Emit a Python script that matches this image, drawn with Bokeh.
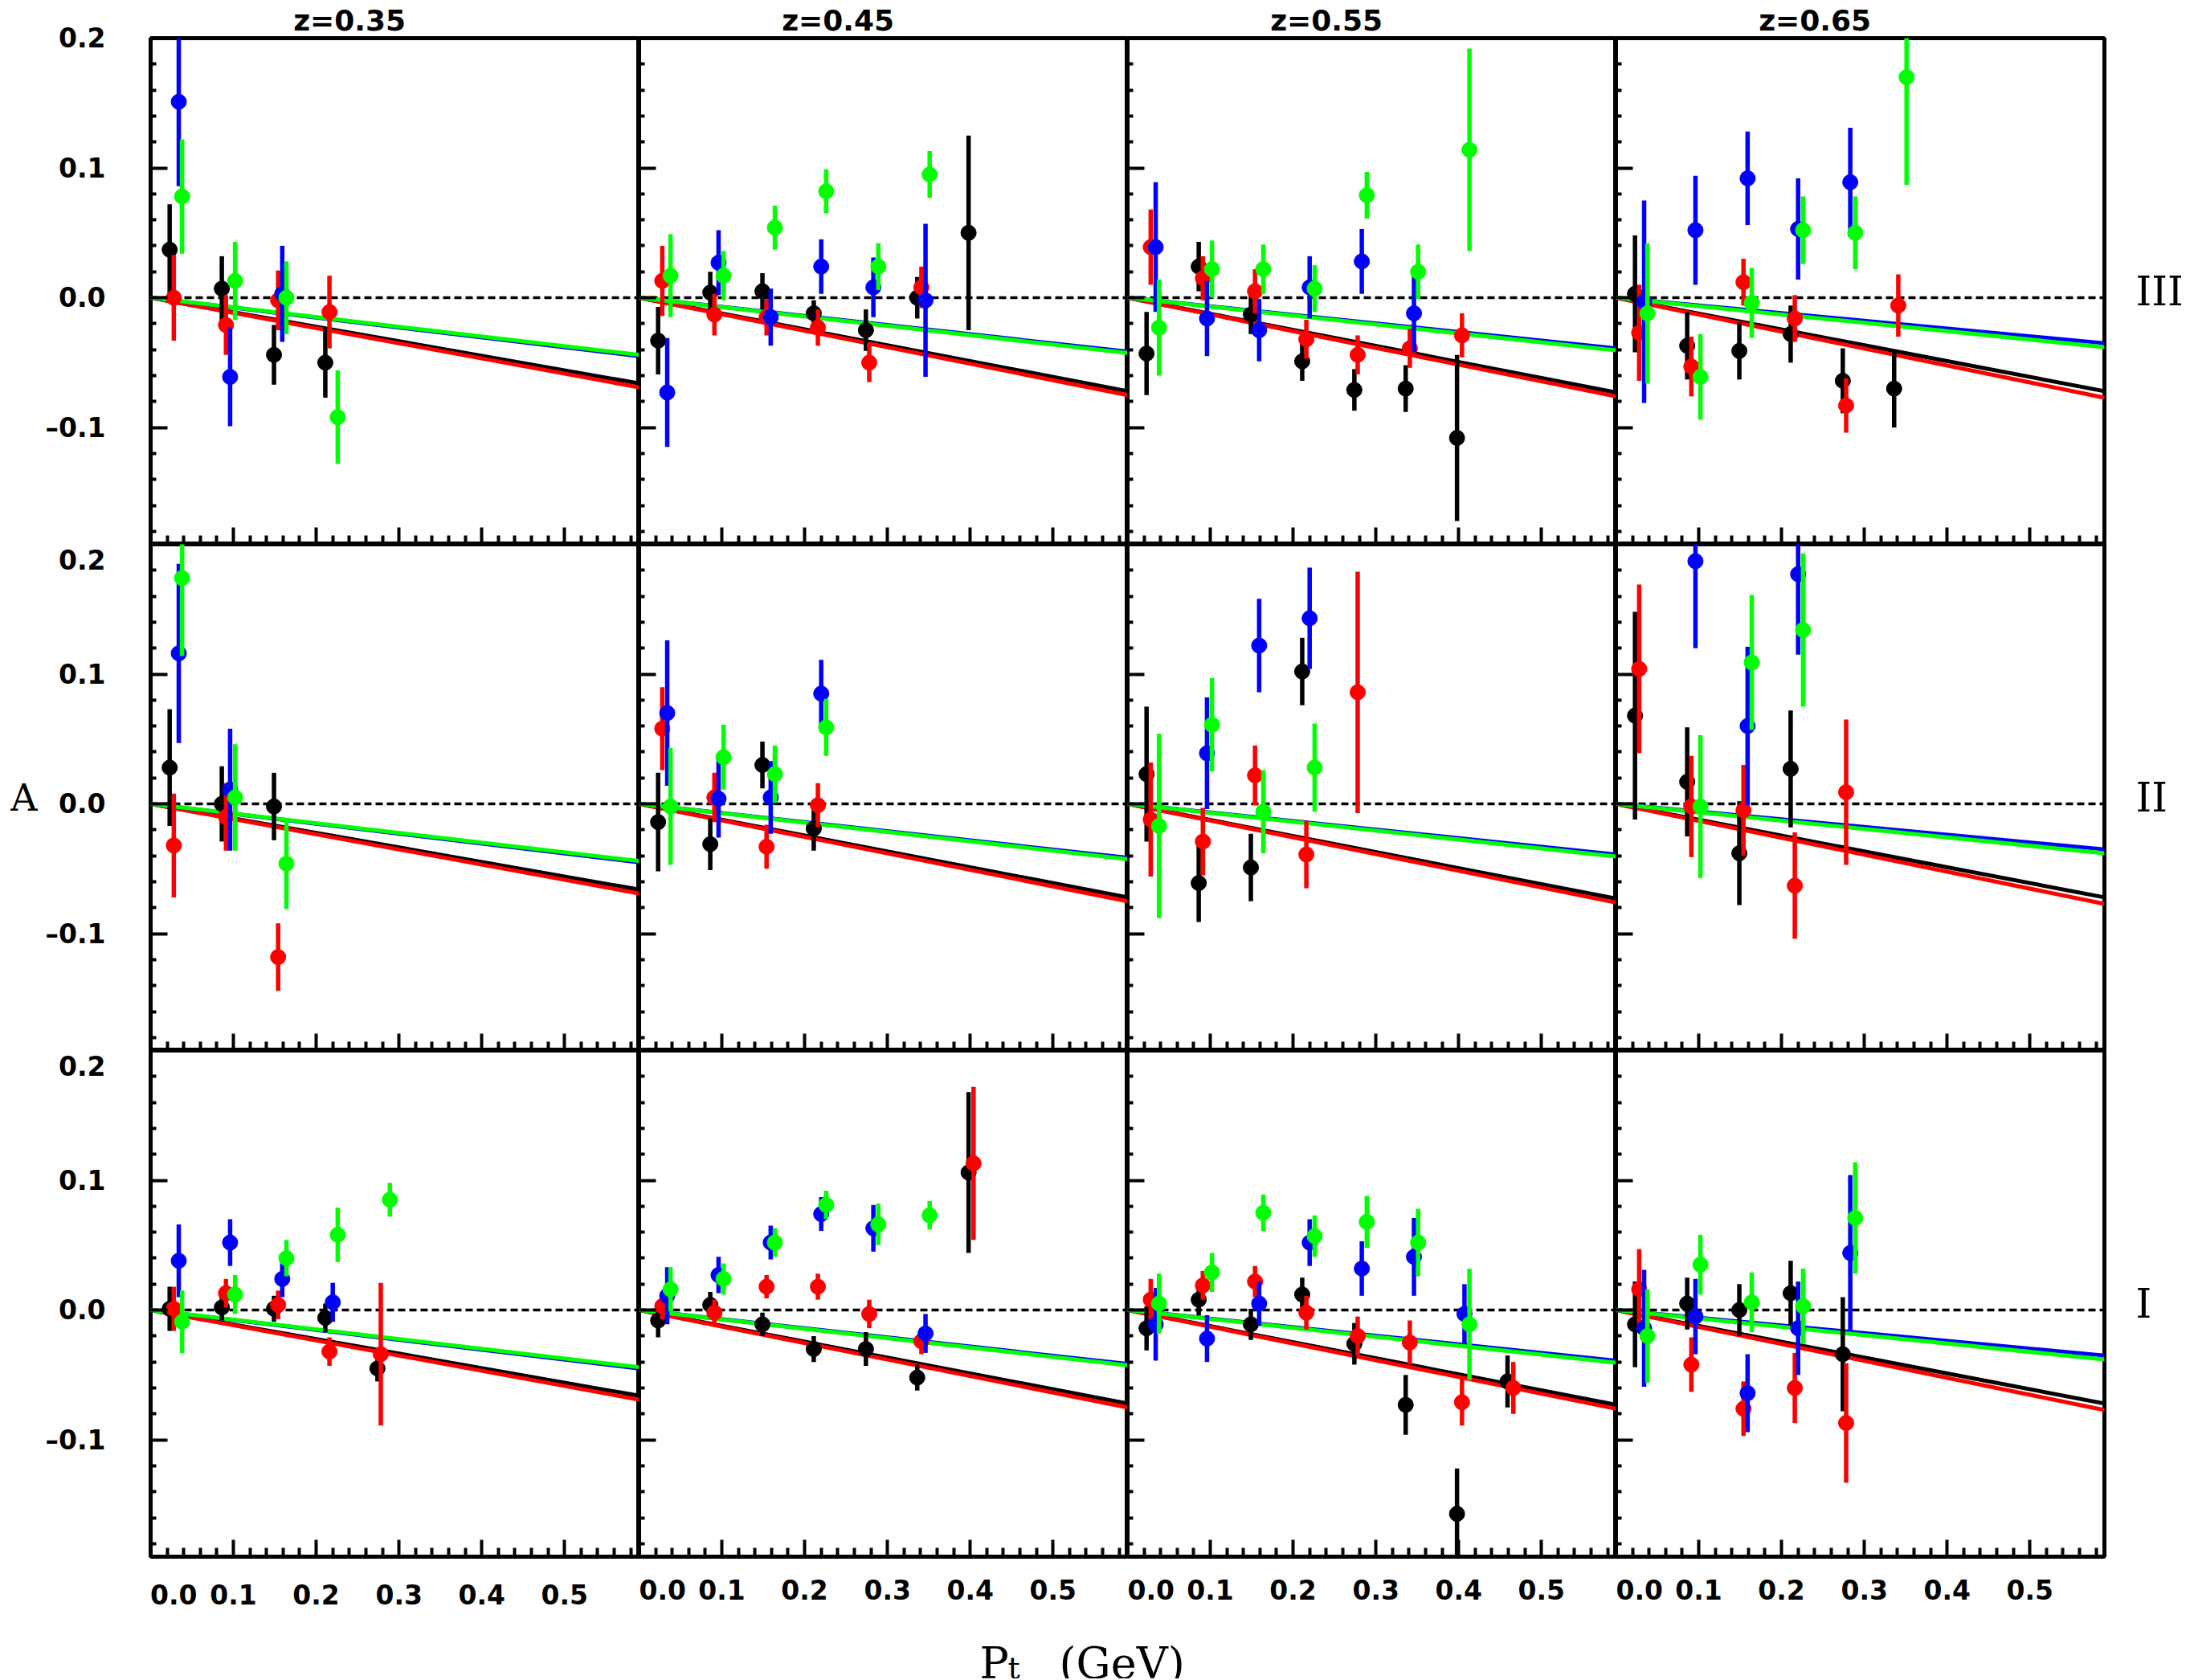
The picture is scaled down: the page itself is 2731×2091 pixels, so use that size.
from bokeh.plotting import figure
from bokeh.layouts import gridplot, column
from bokeh.models import FixedTicker, Label, Range1d, Span, LinearAxis
from bokeh.embed import file_html
from bokeh.resources import INLINE

# ---------------- data ----------------
Z_BINS = ["z=0.35", "z=0.45", "z=0.55", "z=0.65"]
ROWS = ["III", "II", "I"]

# Pt bin centres (GeV) for the four data sets (black, red, blue, green)
PT_K = [0.023, 0.086, 0.149, 0.211, 0.274, 0.336, 0.398, 0.459]
PT_R = [0.028, 0.091, 0.154, 0.216, 0.278, 0.341, 0.404, 0.466]
PT_B = [0.034, 0.096, 0.159, 0.220, 0.283, 0.346, 0.407]
PT_G = [0.038, 0.102, 0.164, 0.226, 0.289, 0.351, 0.413]

# theory curves: straight lines from A=0 at Pt=0 to the value at Pt=0.59 (one per z column)
TH_PT = [0.0, 0.59]
TH_START = 0.0
TH_END_K = [-0.066, -0.072, -0.073, -0.072]
TH_END_R = [-0.069, -0.075, -0.076, -0.077]
TH_END_B = [-0.045, -0.0415, -0.039, -0.035]
TH_END_G = [-0.044, -0.0425, -0.0405, -0.038]

# ----- row III -----
III_35_K = [0.037, 0.007, -0.044, -0.050]
III_35_dK = [0.035, 0.025, 0.023, 0.027]
III_35_R = [0.000, -0.021, -0.002, -0.011]
III_35_dR = [0.033, 0.023, 0.023, 0.028]
III_35_B = [0.151, -0.061, 0.003]
III_35_dB = [0.065, 0.038, 0.037]
III_35_G = [0.078, 0.013, 0.000, -0.092]
III_35_dG = [0.044, 0.030, 0.028, 0.036]

III_45_K = [-0.033, 0.004, 0.005, -0.012, -0.025, 0.000, 0.050]
III_45_dK = [0.026, 0.016, 0.014, 0.010, 0.016, 0.016, 0.075]
III_45_R = [0.013, -0.013, -0.015, -0.023, -0.050, 0.008]
III_45_dR = [0.027, 0.016, 0.014, 0.014, 0.015, 0.016]
III_45_B = [-0.073, 0.027, -0.015, 0.024, 0.008, -0.002]
III_45_dB = [0.042, 0.025, 0.022, 0.021, 0.023, 0.059]
III_45_G = [0.017, 0.017, 0.054, 0.082, 0.024, 0.095]
III_45_dG = [0.032, 0.019, 0.017, 0.017, 0.018, 0.018]

III_55_K = [-0.043, 0.024, -0.013, -0.049, -0.071, -0.070, -0.108]
III_55_dK = [0.032, 0.019, 0.015, 0.015, 0.016, 0.018, 0.064]
III_55_R = [0.039, 0.015, 0.005, -0.032, -0.044, -0.039, -0.029]
III_55_dR = [0.029, 0.017, 0.017, 0.015, 0.015, 0.015, 0.017]
III_55_B = [0.039, -0.016, -0.025, 0.008, 0.028, -0.012]
III_55_dB = [0.050, 0.029, 0.024, 0.024, 0.025, 0.030]
III_55_G = [-0.023, 0.022, 0.022, 0.007, 0.079, 0.020, 0.114]
III_55_dG = [0.037, 0.022, 0.019, 0.018, 0.018, 0.021, 0.078]

III_65_K = [0.003, -0.037, -0.041, -0.028, -0.064, -0.070]
III_65_dK = [0.045, 0.026, 0.022, 0.022, 0.025, 0.030]
III_65_R = [-0.027, -0.053, 0.012, -0.016, -0.083, -0.006]
III_65_dR = [0.037, 0.023, 0.018, 0.018, 0.021, 0.024]
III_65_B = [-0.003, 0.052, 0.092, 0.053, 0.089]
III_65_dB = [0.078, 0.042, 0.036, 0.039, 0.042]
III_65_G = [-0.012, -0.061, -0.004, 0.052, 0.050, 0.170]
III_65_dG = [0.054, 0.033, 0.027, 0.026, 0.028, 0.083]

# ----- row II -----
II_35_K = [0.028, 0.000, -0.002]
II_35_dK = [0.045, 0.029, 0.026]
II_35_R = [-0.032, -0.010, -0.118]
II_35_dR = [0.040, 0.026, 0.026]
II_35_B = [0.116, 0.011]
II_35_dB = [0.069, 0.047]
II_35_G = [0.174, 0.005, -0.046]
II_35_dG = [0.060, 0.041, 0.035]

II_45_K = [-0.014, -0.031, 0.030, -0.019]
II_45_dK = [0.038, 0.020, 0.018, 0.017]
II_45_R = [0.058, 0.005, -0.033, -0.001]
II_45_dR = [0.032, 0.019, 0.017, 0.017]
II_45_B = [0.070, 0.004, 0.005, 0.085]
II_45_dB = [0.056, 0.030, 0.028, 0.026]
II_45_G = [-0.002, 0.036, 0.023, 0.059]
II_45_dG = [0.045, 0.025, 0.022, 0.022]

II_55_K = [0.023, -0.061, -0.049, 0.102]
II_55_dK = [0.052, 0.030, 0.026, 0.026]
II_55_R = [-0.012, -0.029, 0.022, -0.039, 0.086]
II_55_dR = [0.044, 0.026, 0.023, 0.026, 0.093]
II_55_B = [None, 0.039, 0.122, 0.143]
II_55_dB = [None, 0.043, 0.036, 0.039]
II_55_G = [-0.017, 0.061, -0.006, 0.028]
II_55_dG = [0.071, 0.036, 0.032, 0.034]

II_65_K = [0.068, 0.017, -0.038, 0.027]
II_65_dK = [0.080, 0.042, 0.040, 0.045]
II_65_R = [0.104, -0.002, -0.005, -0.063, 0.009]
II_65_dR = [0.065, 0.039, 0.035, 0.041, 0.056]
II_65_B = [None, 0.187, 0.060, 0.177]
II_65_dB = [None, 0.067, 0.061, 0.062]
II_65_G = [None, -0.002, 0.109, 0.134]
II_65_dG = [None, 0.055, 0.052, 0.059]

# ----- row I -----
I_35_K = [0.001, 0.002, 0.001, -0.006, -0.045]
I_35_dK = [0.017, 0.010, 0.010, 0.011, 0.010]
I_35_R = [0.001, 0.013, 0.004, -0.032, -0.034]
I_35_dR = [0.017, 0.011, 0.011, 0.011, 0.055]
I_35_B = [0.038, 0.052, 0.024, 0.006]
I_35_dB = [0.028, 0.018, 0.014, 0.015]
I_35_G = [-0.009, 0.012, 0.040, 0.058, 0.085]
I_35_dG = [0.024, 0.015, 0.014, 0.021, 0.013]

I_45_K = [-0.008, 0.004, -0.011, -0.030, -0.030, -0.052, 0.106]
I_45_dK = [0.013, 0.010, 0.009, 0.010, 0.013, 0.010, 0.062]
I_45_R = [0.003, -0.002, 0.018, 0.018, -0.003, -0.024, 0.113]
I_45_dR = [0.010, 0.010, 0.009, 0.010, 0.011, 0.010, 0.059]
I_45_B = [0.011, 0.027, 0.052, 0.074, 0.063, -0.018]
I_45_dB = [0.022, 0.014, 0.013, 0.013, 0.018, 0.015]
I_45_G = [0.016, 0.024, 0.052, 0.081, 0.066, 0.073]
I_45_dG = [0.017, 0.012, 0.011, 0.011, 0.016, 0.011]

I_55_K = [-0.014, 0.008, -0.011, 0.012, -0.026, -0.073, -0.157, -0.055]
I_55_dK = [0.017, 0.012, 0.012, 0.013, 0.016, 0.023, 0.035, 0.020]
I_55_R = [0.008, 0.019, 0.022, -0.002, -0.020, -0.025, -0.071, -0.060]
I_55_dR = [0.016, 0.011, 0.012, 0.013, 0.015, 0.017, 0.018, 0.020]
I_55_B = [-0.011, -0.022, 0.005, 0.052, 0.032, 0.041, -0.003]
I_55_dB = [0.028, 0.018, 0.017, 0.018, 0.021, 0.030, 0.023]
I_55_G = [0.005, 0.029, 0.075, 0.057, 0.068, 0.052, -0.011]
I_55_dG = [0.023, 0.015, 0.014, 0.016, 0.020, 0.026, 0.043]

I_65_K = [-0.011, 0.005, 0.000, 0.013, -0.034]
I_65_dK = [0.033, 0.020, 0.020, 0.025, 0.044]
I_65_R = [0.016, -0.042, -0.076, -0.060, -0.087]
I_65_dR = [0.031, 0.021, 0.021, 0.027, 0.046]
I_65_B = [-0.014, -0.005, -0.064, -0.014, 0.044]
I_65_dB = [0.045, 0.029, 0.030, 0.036, 0.060]
I_65_G = [-0.020, 0.035, 0.006, 0.003, 0.071]
I_65_dG = [0.036, 0.023, 0.023, 0.029, 0.043]

Y_MAJOR = [-0.1, 0.0, 0.1, 0.2]
Y_TICK_LABELS = ["\u20130.1", "0.0", "0.1", "0.2"]
X_MAJOR = [0.0, 0.1, 0.2, 0.3, 0.4, 0.5]
X_TICK_LABELS = ["0.0", "0.1", "0.2", "0.3", "0.4", "0.5"]

# ---------------- styling / layout ----------------
COLORS = {"K": "#000000", "R": "#ff0000", "B": "#0000ff", "G": "#00ff00"}
PT = {"K": PT_K, "R": PT_R, "B": PT_B, "G": PT_G}
TH_END = {"K": TH_END_K, "R": TH_END_R, "B": TH_END_B, "G": TH_END_G}
ZTAG = ["35", "45", "55", "65"]
GL = globals()

FW, FH = 608, 630
LEFT, RIGHT, TOP, BOTTOM = 187, 110, 47, 68
XMAX, YMIN, YMAX = 0.59, -0.19, 0.2
SANS = "DejaVu Sans"
SERIF = "DejaVu Serif"
NB = "\u00a0"

Y_MINOR = [round(-0.18 + 0.02 * i, 2) for i in range(19) if i % 5 != 4]
X_MINOR = [round(0.02 * i, 2) for i in range(1, 30) if i % 5 != 0]


def style_axis(ax, ticks, minor, labels, show, minor_len, standoff):
    ax.ticker = FixedTicker(ticks=ticks, minor_ticks=minor)
    ax.axis_line_color = None
    ax.major_tick_in = 21
    ax.major_tick_out = 0
    ax.minor_tick_in = minor_len
    ax.minor_tick_out = 0
    ax.major_tick_line_width = 4
    ax.minor_tick_line_width = 4
    ax.major_tick_line_color = "black"
    ax.minor_tick_line_color = "black"
    if show:
        ax.major_label_overrides = labels
        ax.major_label_text_font = SANS
        ax.major_label_text_font_style = "bold"
        ax.major_label_text_font_size = "33px"
        ax.major_label_text_color = "black"
        ax.major_label_standoff = standoff
    else:
        ax.major_label_overrides = {t: "" for t in ticks}
        ax.major_label_text_font_size = "0px"
        ax.major_label_standoff = 0


def make_panel(r, c):
    row, z = ROWS[r], ZTAG[c]
    p = figure(frame_width=FW, frame_height=FH,
               x_range=Range1d(0.0, XMAX), y_range=Range1d(YMIN, YMAX),
               output_backend="svg", toolbar_location=None,
               min_border_left=LEFT if c == 0 else 0,
               min_border_right=RIGHT if c == 3 else 0,
               min_border_top=TOP if r == 0 else 0,
               min_border_bottom=BOTTOM if r == 2 else 0,
               outline_line_color="black", outline_line_width=5,
               background_fill_color="white", border_fill_color="white")
    p.xgrid.visible = False
    p.ygrid.visible = False

    # y axis (labels only on the left column)
    ylab = dict(zip(Y_MAJOR, Y_TICK_LABELS))
    style_axis(p.yaxis[0], Y_MAJOR, Y_MINOR, ylab, c == 0, 7, 56)
    if c == 0 and r == 1:
        ax = p.yaxis[0]
        ax.axis_label = "A"
        ax.axis_label_orientation = "horizontal"
        ax.axis_label_standoff = 7
        ax.axis_label_text_font = SERIF
        ax.axis_label_text_font_style = "normal"
        ax.axis_label_text_font_size = "46px"
        ax.axis_label_text_color = "black"

    # x axis (labels only on the bottom row)
    xlab = dict(zip(X_MAJOR, X_TICK_LABELS))
    if c == 0:
        xlab[0.0] = NB * 5 + "0.0"
    style_axis(p.xaxis[0], X_MAJOR, X_MINOR, xlab, r == 2, 11, 28)

    if r == 0:
        p.title.text = Z_BINS[c] + NB * 9
        p.title.align = "center"
        p.title.standoff = 3
        p.title.text_font = SANS
        p.title.text_font_style = "bold"
        p.title.text_font_size = "36px"
        p.title.text_color = "black"

    if c == 3:
        rax = LinearAxis(ticker=FixedTicker(ticks=[]), axis_label=ROWS[r],
                         axis_label_orientation="horizontal", axis_label_standoff=39,
                         axis_line_color=None, major_tick_line_color=None,
                         minor_tick_line_color=None, major_tick_out=0, minor_tick_out=0,
                         major_label_text_font_size="0px", major_label_standoff=0,
                         axis_label_text_font=SERIF, axis_label_text_font_style="normal",
                         axis_label_text_font_size="50px", axis_label_text_color="black")
        p.add_layout(rax, "right")

    p.add_layout(Span(location=0.0, dimension="width", line_color="black",
                      line_width=3.5, line_dash="9 5", level="underlay"))

    for k in ["K", "R", "B", "G"]:
        p.line(TH_PT, [TH_START, TH_END[k][c]], line_color=COLORS[k], line_width=5)

    for k in ["K", "R", "B", "G"]:
        vals = GL[f"{row}_{z}_{k}"]
        errs = GL[f"{row}_{z}_d{k}"]
        xs, ys, lo, hi = [], [], [], []
        for x, v, e in zip(PT[k], vals, errs):
            if v is None:
                continue
            xs.append(x)
            ys.append(v)
            lo.append(v - e)
            hi.append(v + e)
        p.segment(x0=xs, y0=lo, x1=xs, y1=hi, line_color=COLORS[k], line_width=5.5)
        p.scatter(xs, ys, marker="circle", size=19, fill_color=COLORS[k],
                  line_color=COLORS[k], line_width=1)
    return p


panels = [[make_panel(r, c) for c in range(4)] for r in range(3)]
grid = gridplot(panels, toolbar_location=None)

# strip below the grid that carries the x-axis title (y measured from its top edge)
TOTAL_W = LEFT + 4 * FW + RIGHT
LAB_H = 82
lab = figure(frame_width=TOTAL_W, frame_height=LAB_H,
             x_range=Range1d(0, TOTAL_W), y_range=Range1d(LAB_H, 0),
             min_border=0, toolbar_location=None, output_backend="svg",
             outline_line_color=None, x_axis_location=None, y_axis_location=None,
             background_fill_color="white", border_fill_color="white")
lab.grid.visible = False
lab.add_layout(Label(x=1219, y=63, text="P", text_font=SERIF, text_font_size="54px",
                     text_baseline="alphabetic", text_align="left", text_color="black"))
lab.add_layout(Label(x=1254, y=68, text="t", text_font=SERIF, text_font_size="38px",
                     text_baseline="alphabetic", text_align="left", text_color="black"))
lab.add_layout(Label(x=1318, y=63, text="(GeV)", text_font=SERIF, text_font_size="54px",
                     text_baseline="alphabetic", text_align="left", text_color="black"))

layout = column(grid, lab, spacing=0)
open("out.html", "w").write(file_html(layout, INLINE))
